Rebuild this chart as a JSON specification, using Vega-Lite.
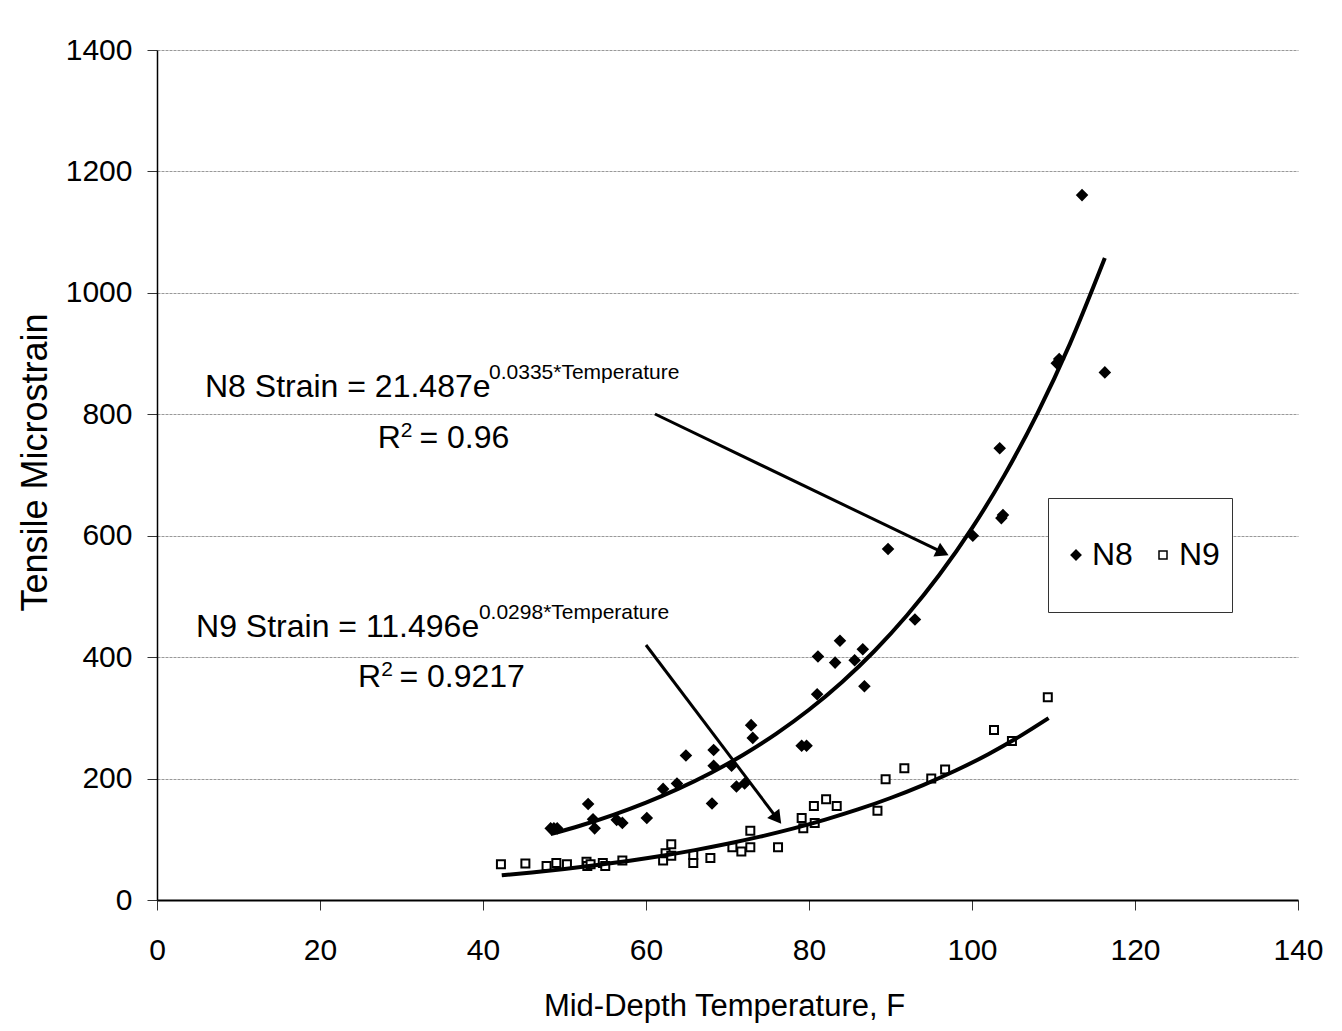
{
  "$schema": "https://vega.github.io/schema/vega-lite/v6.json",
  "width": 1141,
  "height": 850,
  "autosize": {"type": "none"},
  "padding": {"left": 157, "top": 50, "right": 44, "bottom": 131},
  "background": "white",
  "config": {
    "font": "Liberation Sans",
    "view": {"stroke": null},
    "legend": {
      "orient": "none",
      "legendX": 891,
      "legendY": 448,
      "direction": "horizontal",
      "padding": 12,
      "clipHeight": 90,
      "strokeColor": "#333333",
      "fillColor": "white",
      "labelFontSize": 32,
      "labelColor": "black",
      "labelOffset": 0,
      "columnPadding": 14,
      "symbolStrokeColor": "black",
      "symbolStrokeWidth": 1.5,
      "title": null
    }
  },
  "datasets": {
    "pts": [
      {"series": "N8", "temp": 48.3, "strain": 118},
      {"series": "N8", "temp": 48.7, "strain": 118},
      {"series": "N8", "temp": 49.1, "strain": 118},
      {"series": "N8", "temp": 52.9, "strain": 158},
      {"series": "N8", "temp": 53.5, "strain": 133},
      {"series": "N8", "temp": 53.7, "strain": 118},
      {"series": "N8", "temp": 56.4, "strain": 132},
      {"series": "N8", "temp": 57.1, "strain": 127},
      {"series": "N8", "temp": 60.1, "strain": 135},
      {"series": "N8", "temp": 62.1, "strain": 183},
      {"series": "N8", "temp": 63.8, "strain": 192},
      {"series": "N8", "temp": 64.9, "strain": 238},
      {"series": "N8", "temp": 68.1, "strain": 159},
      {"series": "N8", "temp": 68.3, "strain": 247},
      {"series": "N8", "temp": 68.3, "strain": 221},
      {"series": "N8", "temp": 70.5, "strain": 221},
      {"series": "N8", "temp": 71.1, "strain": 187},
      {"series": "N8", "temp": 72.1, "strain": 192},
      {"series": "N8", "temp": 72.9, "strain": 288},
      {"series": "N8", "temp": 73.1, "strain": 267},
      {"series": "N8", "temp": 79.1, "strain": 254},
      {"series": "N8", "temp": 79.7, "strain": 254},
      {"series": "N8", "temp": 81.0, "strain": 339},
      {"series": "N8", "temp": 81.1, "strain": 401},
      {"series": "N8", "temp": 83.2, "strain": 391},
      {"series": "N8", "temp": 83.8, "strain": 427},
      {"series": "N8", "temp": 85.6, "strain": 395},
      {"series": "N8", "temp": 86.6, "strain": 413},
      {"series": "N8", "temp": 86.8, "strain": 352},
      {"series": "N8", "temp": 89.7, "strain": 578},
      {"series": "N8", "temp": 93.0, "strain": 462},
      {"series": "N8", "temp": 100.1, "strain": 600},
      {"series": "N8", "temp": 103.4, "strain": 744},
      {"series": "N8", "temp": 103.6, "strain": 629},
      {"series": "N8", "temp": 103.8, "strain": 634},
      {"series": "N8", "temp": 110.4, "strain": 884},
      {"series": "N8", "temp": 110.7, "strain": 891},
      {"series": "N8", "temp": 113.5, "strain": 1161},
      {"series": "N8", "temp": 116.3, "strain": 869},
      {"series": "N9", "temp": 42.2, "strain": 59},
      {"series": "N9", "temp": 45.2, "strain": 60},
      {"series": "N9", "temp": 47.8, "strain": 56},
      {"series": "N9", "temp": 49.0, "strain": 61},
      {"series": "N9", "temp": 50.3, "strain": 59},
      {"series": "N9", "temp": 52.7, "strain": 63},
      {"series": "N9", "temp": 52.8, "strain": 56},
      {"series": "N9", "temp": 53.2, "strain": 59},
      {"series": "N9", "temp": 54.7, "strain": 61},
      {"series": "N9", "temp": 55.0, "strain": 56},
      {"series": "N9", "temp": 57.1, "strain": 65},
      {"series": "N9", "temp": 62.1, "strain": 65},
      {"series": "N9", "temp": 62.4, "strain": 77},
      {"series": "N9", "temp": 63.1, "strain": 92},
      {"series": "N9", "temp": 63.1, "strain": 73},
      {"series": "N9", "temp": 65.8, "strain": 74},
      {"series": "N9", "temp": 65.8, "strain": 61},
      {"series": "N9", "temp": 67.9, "strain": 69},
      {"series": "N9", "temp": 70.6, "strain": 87},
      {"series": "N9", "temp": 71.7, "strain": 80},
      {"series": "N9", "temp": 72.8, "strain": 114},
      {"series": "N9", "temp": 72.8, "strain": 87},
      {"series": "N9", "temp": 76.2, "strain": 87},
      {"series": "N9", "temp": 79.1, "strain": 135},
      {"series": "N9", "temp": 79.3, "strain": 118},
      {"series": "N9", "temp": 80.6, "strain": 155},
      {"series": "N9", "temp": 80.7, "strain": 127},
      {"series": "N9", "temp": 82.1, "strain": 166},
      {"series": "N9", "temp": 83.4, "strain": 155},
      {"series": "N9", "temp": 88.4, "strain": 147},
      {"series": "N9", "temp": 89.4, "strain": 199},
      {"series": "N9", "temp": 91.7, "strain": 217},
      {"series": "N9", "temp": 95.0, "strain": 200},
      {"series": "N9", "temp": 96.7, "strain": 215},
      {"series": "N9", "temp": 102.7, "strain": 280},
      {"series": "N9", "temp": 104.9, "strain": 262},
      {"series": "N9", "temp": 109.3, "strain": 334}
    ],
    "fit": [
      {"series": "N8", "temp": 48.3, "strain": 108.4},
      {"series": "N8", "temp": 52, "strain": 122.7},
      {"series": "N8", "temp": 56, "strain": 140.3},
      {"series": "N8", "temp": 60, "strain": 160.4},
      {"series": "N8", "temp": 64, "strain": 183.4},
      {"series": "N8", "temp": 68, "strain": 209.7},
      {"series": "N8", "temp": 72, "strain": 239.7},
      {"series": "N8", "temp": 76, "strain": 274.1},
      {"series": "N8", "temp": 80, "strain": 313.4},
      {"series": "N8", "temp": 84, "strain": 358.3},
      {"series": "N8", "temp": 88, "strain": 409.7},
      {"series": "N8", "temp": 92, "strain": 468.5},
      {"series": "N8", "temp": 96, "strain": 535.6},
      {"series": "N8", "temp": 100, "strain": 612.4},
      {"series": "N8", "temp": 104, "strain": 700.2},
      {"series": "N8", "temp": 108, "strain": 800.7},
      {"series": "N8", "temp": 112, "strain": 915.5},
      {"series": "N8", "temp": 116.3, "strain": 1057.3},
      {"series": "N9", "temp": 42.3, "strain": 40.6},
      {"series": "N9", "temp": 46, "strain": 45.3},
      {"series": "N9", "temp": 50, "strain": 51.0},
      {"series": "N9", "temp": 54, "strain": 57.5},
      {"series": "N9", "temp": 58, "strain": 64.7},
      {"series": "N9", "temp": 62, "strain": 72.9},
      {"series": "N9", "temp": 66, "strain": 82.2},
      {"series": "N9", "temp": 70, "strain": 92.6},
      {"series": "N9", "temp": 74, "strain": 104.3},
      {"series": "N9", "temp": 78, "strain": 117.5},
      {"series": "N9", "temp": 82, "strain": 132.4},
      {"series": "N9", "temp": 86, "strain": 149.1},
      {"series": "N9", "temp": 90, "strain": 168.0},
      {"series": "N9", "temp": 94, "strain": 189.3},
      {"series": "N9", "temp": 98, "strain": 213.2},
      {"series": "N9", "temp": 102, "strain": 240.2},
      {"series": "N9", "temp": 106, "strain": 270.7},
      {"series": "N9", "temp": 109.4, "strain": 299.5}
    ],
    "arrows": [
      {"id": "a1", "temp": 61.1, "strain": 800.5, "temp2": 96.4, "strain2": 572.4},
      {"id": "a2", "temp": 60.0, "strain": 420.0, "temp2": 76.1, "strain2": 134.1}
    ],
    "notes": [
      {"txt": "N8 Strain = 21.487e", "temp": 5.89, "strain": 828.5, "kind": "main"},
      {"txt": "0.0335*Temperature", "temp": 40.74, "strain": 858.2, "kind": "sup"},
      {"txt": "R", "temp": 27.1, "strain": 744.5, "kind": "main"},
      {"txt": "2", "temp": 29.9, "strain": 762.6, "kind": "sup"},
      {"txt": "= 0.96", "temp": 32.2, "strain": 744.5, "kind": "main"},
      {"txt": "N9 Strain = 11.496e", "temp": 4.79, "strain": 433.2, "kind": "main"},
      {"txt": "0.0298*Temperature", "temp": 39.5, "strain": 462.9, "kind": "sup"},
      {"txt": "R", "temp": 24.66, "strain": 350.8, "kind": "main"},
      {"txt": "2", "temp": 27.5, "strain": 368.9, "kind": "sup"},
      {"txt": "= 0.9217", "temp": 29.75, "strain": 350.8, "kind": "main"}
    ]
  },
  "layer": [
    {
      "data": {"name": "pts"},
      "mark": {"type": "point", "filled": true, "strokeWidth": 2, "opacity": 1},
      "encoding": {
        "x": {
          "field": "temp", "type": "quantitative",
          "scale": {"domain": [0, 140], "nice": false},
          "axis": {
            "title": "Mid-Depth Temperature, F",
            "values": [0, 20, 40, 60, 80, 100, 120, 140],
            "grid": false,
            "domainColor": "black", "domainWidth": 2,
            "tickColor": "#333333", "tickSize": 10, "tickWidth": 1,
            "labelFontSize": 30, "labelColor": "black", "labelPadding": 25,
            "labelFlush": false, "labelOverlap": false,
            "titleFontSize": 31, "titleFontWeight": "normal", "titleColor": "black",
            "titleBaseline": "alphabetic", "titleX": 567, "titleY": 115
          }
        },
        "y": {
          "field": "strain", "type": "quantitative",
          "scale": {"domain": [0, 1400], "nice": false},
          "axis": {
            "title": "Tensile Microstrain",
            "values": [0, 200, 400, 600, 800, 1000, 1200, 1400],
            "format": "d",
            "grid": true, "gridColor": "#999999", "gridDash": [3, 1], "gridWidth": 1,
            "domainColor": "black", "domainWidth": 1.5,
            "tickColor": "#333333", "tickSize": 10, "tickWidth": 1,
            "labelFontSize": 30, "labelColor": "black", "labelPadding": 15,
            "labelFlush": false, "labelOverlap": false,
            "titleFontSize": 36, "titleFontWeight": "normal", "titleColor": "black",
            "titleAngle": -90, "titleBaseline": "alphabetic", "titleX": -111, "titleY": 412
          }
        },
        "shape": {
          "field": "series", "type": "nominal",
          "scale": {"domain": ["N8", "N9"], "range": ["diamond", "square"]}
        },
        "fill": {
          "field": "series", "type": "nominal",
          "scale": {"domain": ["N8", "N9"], "range": ["black", "white"]}
        },
        "stroke": {
          "field": "series", "type": "nominal",
          "scale": {"domain": ["N8", "N9"], "range": ["black", "black"]}
        },
        "size": {
          "field": "series", "type": "nominal",
          "scale": {"domain": ["N8", "N9"], "range": [95, 64]}
        }
      }
    },
    {
      "data": {"name": "fit"},
      "mark": {"type": "line", "color": "black", "strokeWidth": 4, "interpolate": "monotone"},
      "encoding": {
        "x": {"field": "temp", "type": "quantitative"},
        "y": {"field": "strain", "type": "quantitative"},
        "detail": {"field": "series", "type": "nominal"}
      }
    },
    {
      "mark": {"type": "rule", "color": "black", "strokeWidth": 1},
      "encoding": {
        "x": {"datum": 140, "type": "quantitative"},
        "y": {"datum": 0, "type": "quantitative"},
        "y2": {"datum": 1400}
      }
    },
    {
      "data": {"name": "arrows"},
      "mark": {"type": "rule", "color": "black", "strokeWidth": 3},
      "encoding": {
        "x": {"field": "temp", "type": "quantitative"},
        "y": {"field": "strain", "type": "quantitative"},
        "x2": {"field": "temp2"},
        "y2": {"field": "strain2"}
      }
    },
    {
      "data": {"name": "arrows"},
      "transform": [{"filter": "datum.id == 'a1'"}],
      "mark": {"type": "point", "shape": "triangle-right", "filled": true, "color": "black", "opacity": 1, "size": 230, "angle": 25.8},
      "encoding": {
        "x": {"field": "temp2", "type": "quantitative"},
        "y": {"field": "strain2", "type": "quantitative"}
      }
    },
    {
      "data": {"name": "arrows"},
      "transform": [{"filter": "datum.id == 'a2'"}],
      "mark": {"type": "point", "shape": "triangle-right", "filled": true, "color": "black", "opacity": 1, "size": 230, "angle": 52.6},
      "encoding": {
        "x": {"field": "temp2", "type": "quantitative"},
        "y": {"field": "strain2", "type": "quantitative"}
      }
    },
    {
      "data": {"name": "notes"},
      "transform": [{"filter": "datum.kind == 'main'"}],
      "mark": {"type": "text", "align": "left", "baseline": "alphabetic", "fontSize": 32, "color": "black"},
      "encoding": {
        "x": {"field": "temp", "type": "quantitative"},
        "y": {"field": "strain", "type": "quantitative"},
        "text": {"field": "txt"}
      }
    },
    {
      "data": {"name": "notes"},
      "transform": [{"filter": "datum.kind == 'sup'"}],
      "mark": {"type": "text", "align": "left", "baseline": "alphabetic", "fontSize": 21, "color": "black"},
      "encoding": {
        "x": {"field": "temp", "type": "quantitative"},
        "y": {"field": "strain", "type": "quantitative"},
        "text": {"field": "txt"}
      }
    }
  ]
}
